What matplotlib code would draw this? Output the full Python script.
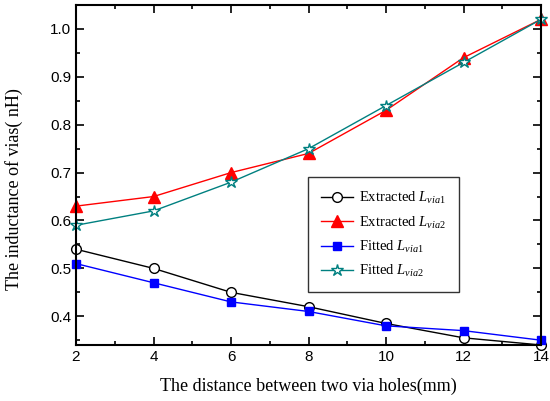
import numpy as np
import matplotlib
matplotlib.use('Agg')
import matplotlib.pyplot as plt

# data
distance = [2, 4, 6, 8, 10, 12, 14]
extracted_via1 = [0.54, 0.50, 0.45, 0.42, 0.385, 0.355, 0.34]
extracted_via2 = [0.63, 0.65, 0.70, 0.74, 0.83, 0.94, 1.02]
fitted_via1 = [0.51, 0.47, 0.43, 0.41, 0.38, 0.37, 0.35]
fitted_via2 = [0.59, 0.62, 0.68, 0.75, 0.84, 0.93, 1.02]

plt.rcParams['mathtext.fontset'] = 'custom'
plt.rcParams['mathtext.rm'] = 'Liberation Serif'
plt.rcParams['mathtext.it'] = 'Liberation Serif:italic'

fig = plt.figure(figsize=(5.5, 4.01), dpi=100)
ax = fig.add_axes([76/550, 56/401, 465/550, 340/401])

ax.plot(distance, extracted_via1, color='black', lw=1, marker='o', ms=7,
        mfc='white', mec='black', label=r'Extracted $L_{via1}$', clip_on=False)
ax.plot(distance, extracted_via2, color='red', lw=1, marker='^', ms=8,
        mfc='red', mec='red', label=r'Extracted $L_{via2}$', clip_on=False)
ax.plot(distance, fitted_via1, color='blue', lw=1, marker='s', ms=6,
        mfc='blue', mec='blue', label=r'Fitted $L_{via1}$', clip_on=False)
ax.plot(distance, fitted_via2, color='#008080', lw=1, marker='*', ms=9,
        mfc='white', mec='#008080', label=r'Fitted $L_{via2}$', clip_on=False)

ax.set_xlim(2, 14)
ax.set_ylim(0.34, 1.05)
ax.set_xticks([2, 4, 6, 8, 10, 12, 14])
ax.set_yticks([0.4, 0.5, 0.6, 0.7, 0.8, 0.9, 1.0])
ax.set_yticklabels(['0.4', '0.5', '0.6', '0.7', '0.8', '0.9', '1.0'])
ax.xaxis.set_minor_locator(matplotlib.ticker.MultipleLocator(1))
ax.yaxis.set_minor_locator(matplotlib.ticker.MultipleLocator(0.05))
ax.tick_params(which='both', direction='in', top=True, right=True, width=1.2)
ax.tick_params(which='major', length=6, labelsize=11)
ax.tick_params(which='minor', length=3)
for lbl in ax.get_xticklabels() + ax.get_yticklabels():
    lbl.set_family('Liberation Sans')
for s in ax.spines.values():
    s.set_linewidth(1.5)

ax.set_xlabel('The distance between two via holes(mm)', family='Liberation Serif',
              fontsize=13, labelpad=10)
ax.set_ylabel('The inductance of vias( nH)', family='Liberation Serif',
              fontsize=13, labelpad=8)
ax.yaxis.set_label_coords(-0.115, 0.46)

leg = ax.legend(loc='lower left', bbox_to_anchor=(0.499, 0.156), fancybox=False,
                edgecolor='black', prop={'family': 'Liberation Serif', 'size': 10.5},
                handlelength=2.2, handletextpad=0.4, borderpad=0.9,
                labelspacing=0.55, borderaxespad=0)
leg.get_frame().set_linewidth(1)

plt.savefig('out.png')
